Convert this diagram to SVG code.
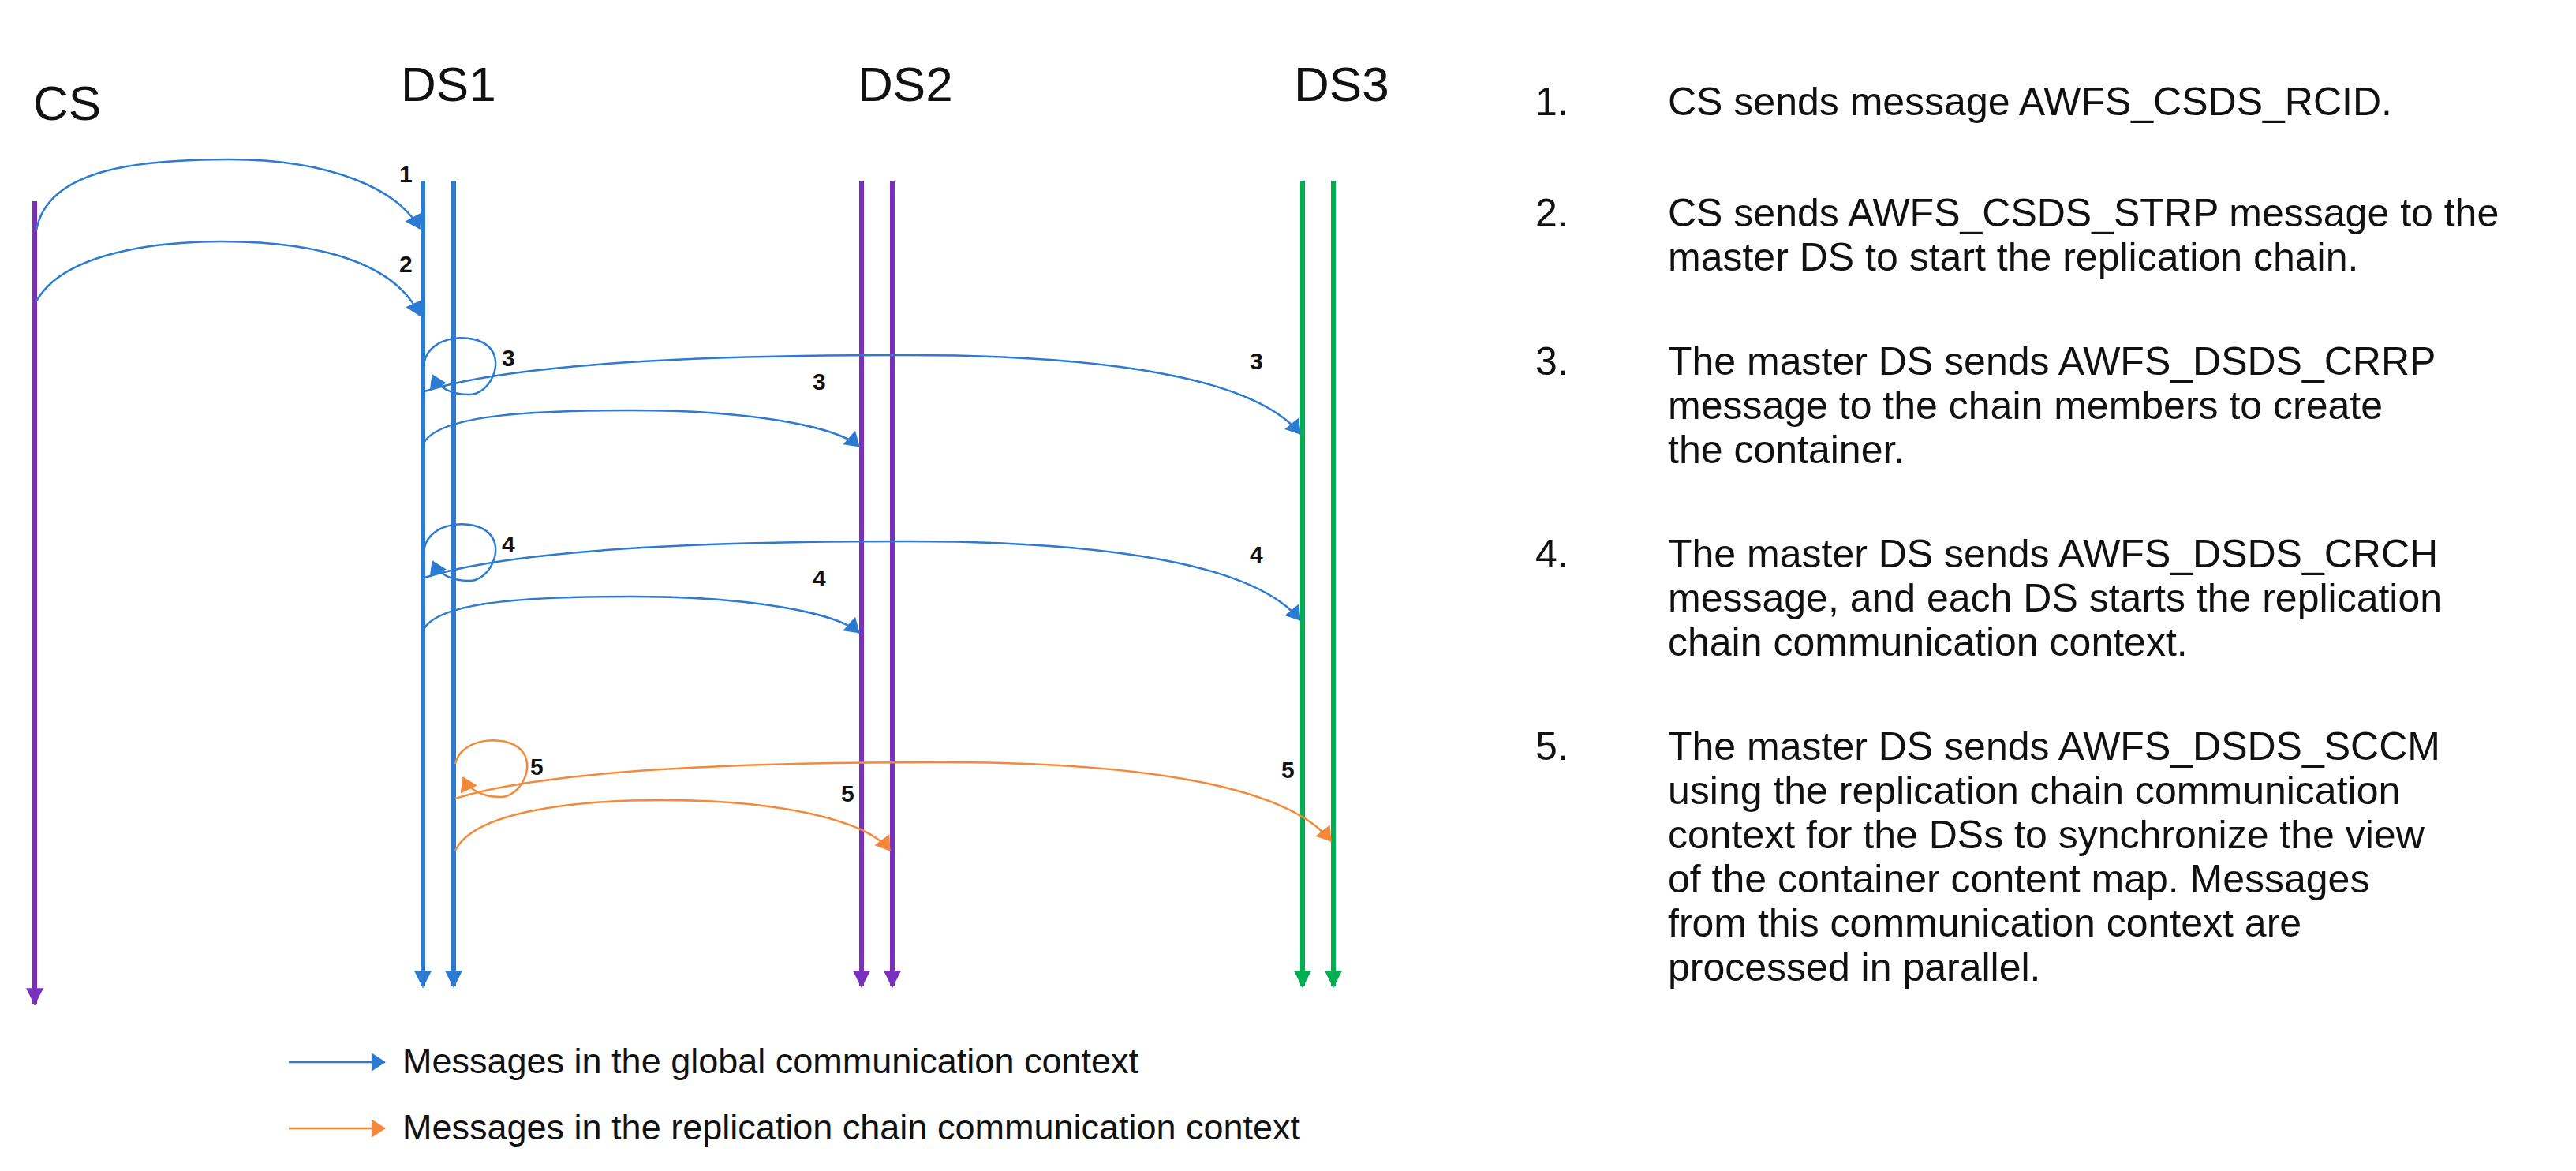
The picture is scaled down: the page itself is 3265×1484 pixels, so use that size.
<svg xmlns="http://www.w3.org/2000/svg" width="3265" height="1484" viewBox="0 0 3265 1484">
<style>
.t{font-family:"Liberation Sans",Arial,sans-serif;fill:#111}
.h{font-size:62px}
.n{font-size:30px;font-weight:bold}
.r{font-size:50px}
.lg{font-size:45px}
.ll{stroke-width:6;fill:none}
.b{stroke:#2b7bd3;fill:none;stroke-width:2.5}
.o{stroke:#f5893a;fill:none;stroke-width:2.5}
</style>
<defs>
<marker id="ab" viewBox="0 0 10 10" refX="9" refY="5" markerWidth="9" markerHeight="9" markerUnits="userSpaceOnUse" orient="auto" overflow="visible"><path d="M-10,-8 L10,5 L-10,18 Z" fill="#2b7bd3"/></marker>
<marker id="ao" viewBox="0 0 10 10" refX="9" refY="5" markerWidth="9" markerHeight="9" markerUnits="userSpaceOnUse" orient="auto" overflow="visible"><path d="M-10,-8 L10,5 L-10,18 Z" fill="#f5893a"/></marker>
<marker id="lp" viewBox="0 0 10 10" refX="5" refY="9" markerWidth="22" markerHeight="26" markerUnits="userSpaceOnUse" orient="0" overflow="visible"><path d="M0,0 L10,0 L5,10 Z" fill="#7b2fbe"/></marker>
<marker id="lb" viewBox="0 0 10 10" refX="5" refY="9" markerWidth="22" markerHeight="26" markerUnits="userSpaceOnUse" orient="0" overflow="visible"><path d="M0,0 L10,0 L5,10 Z" fill="#2b7bd3"/></marker>
<marker id="lgm" viewBox="0 0 10 10" refX="5" refY="9" markerWidth="22" markerHeight="26" markerUnits="userSpaceOnUse" orient="0" overflow="visible"><path d="M0,0 L10,0 L5,10 Z" fill="#00b050"/></marker>
</defs>
<rect width="3265" height="1484" fill="#fff"/>
<g id="CS"><text class="t h" x="42" y="152">CS</text><path class="ll" stroke="#7b2fbe" d="M44,255 V1272" marker-end="url(#lp)"/></g>
<g id="DS1"><text class="t h" x="508" y="128">DS1</text><path class="ll" stroke="#2b7bd3" d="M536,229 V1250" marker-end="url(#lb)"/><path class="ll" stroke="#2b7bd3" d="M575,229 V1250" marker-end="url(#lb)"/></g>
<g id="DS2"><text class="t h" x="1087" y="128">DS2</text><path class="ll" stroke="#7b2fbe" d="M1092,229 V1250" marker-end="url(#lp)"/><path class="ll" stroke="#7b2fbe" d="M1131,229 V1250" marker-end="url(#lp)"/></g>
<g id="DS3"><text class="t h" x="1640" y="128">DS3</text><path class="ll" stroke="#00b050" d="M1651,229 V1250" marker-end="url(#lgm)"/><path class="ll" stroke="#00b050" d="M1690,229 V1250" marker-end="url(#lgm)"/></g>
<g id="connectors">
<path class="b" d="M46,292 C60,210 190,202 290,202 C420,202 505,240 532,290" marker-end="url(#ab)"/>
<path class="b" d="M46,382 C80,320 200,306 280,306 C420,306 505,340 532,400" marker-end="url(#ab)"/>
<path class="b" d="M538,458 C545,425 600,420 620,440 C640,460 620,500 595,500 C570,500 555,490 548,475" marker-end="url(#ab)"/>
<path class="b" d="M538,496 C650,460 900,450 1150,450 C1450,450 1600,490 1648,550" marker-end="url(#ab)"/>
<path class="b" d="M538,560 C560,525 680,520 800,520 C950,520 1060,540 1089,566" marker-end="url(#ab)"/>
<path class="b" d="M538,694 C545,661 600,656 620,676 C640,696 620,736 595,736 C570,736 555,726 548,711" marker-end="url(#ab)"/>
<path class="b" d="M538,732 C650,696 900,686 1150,686 C1450,686 1600,726 1648,786" marker-end="url(#ab)"/>
<path class="b" d="M538,796 C560,761 680,756 800,756 C950,756 1060,776 1089,802" marker-end="url(#ab)"/>
<path class="o" d="M577,968 C584,935 640,930 660,950 C680,970 660,1010 634,1010 C610,1010 594,1000 587,985" marker-end="url(#ao)"/>
<path class="o" d="M577,1012 C690,976 940,966 1190,966 C1490,966 1640,1006 1687,1066" marker-end="url(#ao)"/>
<path class="o" d="M577,1078 C600,1030 720,1014 840,1014 C990,1014 1100,1040 1128,1078" marker-end="url(#ao)"/>
</g>
<g id="labels">
<text class="t n" x="506" y="231">1</text>
<text class="t n" x="506" y="345">2</text>
<text class="t n" x="636" y="464">3</text>
<text class="t n" x="1030" y="494">3</text>
<text class="t n" x="1584" y="468">3</text>
<text class="t n" x="636" y="700">4</text>
<text class="t n" x="1030" y="743">4</text>
<text class="t n" x="1584" y="713">4</text>
<text class="t n" x="672" y="982">5</text>
<text class="t n" x="1066" y="1016">5</text>
<text class="t n" x="1624" y="986">5</text>
</g>
<g id="legend">
<path class="b" d="M366,1346 H488" marker-end="url(#ab)"/>
<text class="t lg" x="510" y="1360">Messages in the global communication context</text>
<path class="o" d="M366,1430 H488" marker-end="url(#ao)"/>
<text class="t lg" x="510" y="1444">Messages in the replication chain communication context</text>
</g>
<g id="steps" class="t r">
<text x="1946" y="146">1.</text><text x="2114" y="146">CS sends message AWFS_CSDS_RCID.</text>
<text x="1946" y="287">2.</text><text x="2114" y="287">CS sends AWFS_CSDS_STRP message to the</text><text x="2114" y="343">master DS to start the replication chain.</text>
<text x="1946" y="475">3.</text><text x="2114" y="475">The master DS sends AWFS_DSDS_CRRP</text><text x="2114" y="531">message to the chain members to create</text><text x="2114" y="587">the container.</text>
<text x="1946" y="719">4.</text><text x="2114" y="719">The master DS sends AWFS_DSDS_CRCH</text><text x="2114" y="775">message, and each DS starts the replication</text><text x="2114" y="831">chain communication context.</text>
<text x="1946" y="963">5.</text><text x="2114" y="963">The master DS sends AWFS_DSDS_SCCM</text><text x="2114" y="1019">using the replication chain communication</text><text x="2114" y="1075">context for the DSs to synchronize the view</text><text x="2114" y="1131">of the container content map. Messages</text><text x="2114" y="1187">from this communication context are</text><text x="2114" y="1243">processed in parallel.</text>
</g>
</svg>
